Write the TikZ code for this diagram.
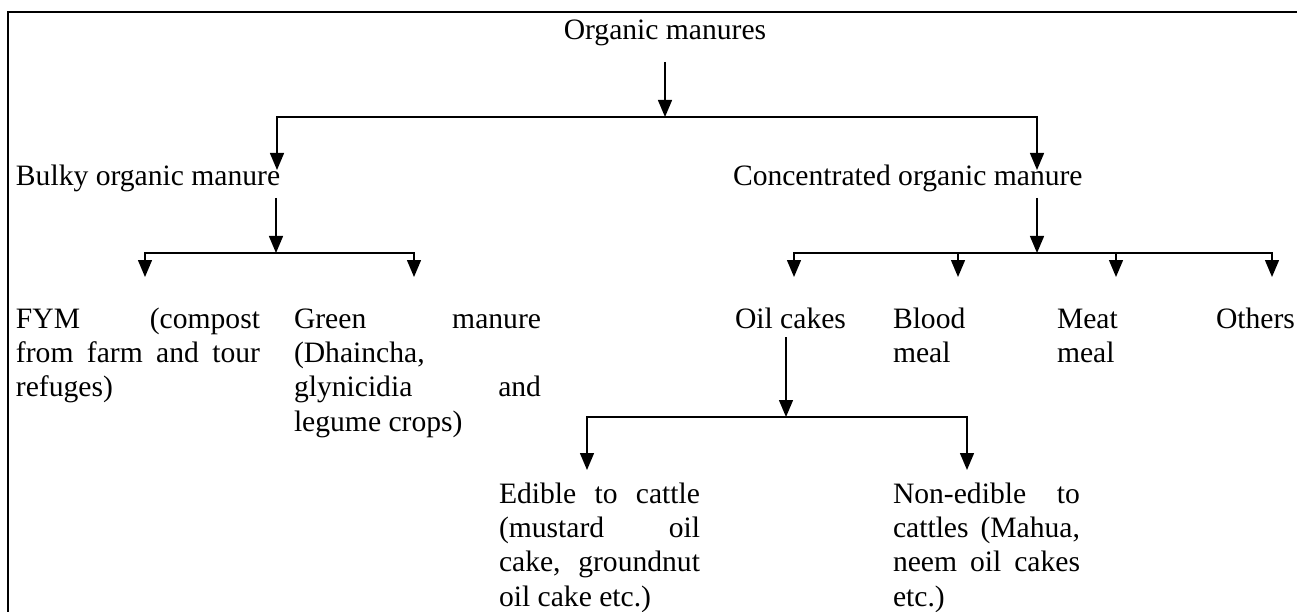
\documentclass[tikz,border=0pt]{standalone}
\usepackage{fontspec}
\setmainfont{Liberation Serif}
\usetikzlibrary{arrows.meta}
\newcommand\jline[2]{\hbox to #1{#2}}
\tikzset{
  txt/.style={anchor=base west, inner sep=0pt, outer sep=0pt, font=\fontsize{29.6}{34.4}\selectfont},
  arr/.style={line width=1.4pt, -{Triangle[length=17pt,width=14pt]}},
  frame/.style={line width=2pt}
}
\begin{document}
\begin{tikzpicture}[x=1pt,y=-1pt]
\useasboundingbox (0,0) rectangle (1297,612);
\draw[frame] (1297,12.5) -- (8,12.5) -- (8,612);

% texts
\node[txt, anchor=base] (organic) at (665,40) {Organic manures};
\node[txt] (bulky) at (16,186) {Bulky organic manure};
\node[txt] (conc) at (733,186) {Concentrated organic manure};
\node[txt] (fym) at (16,328) {\vtop{\jline{244pt}{FYM (compost}\jline{244pt}{from farm and tour}\hbox{refuges)}}};
\node[txt] (green) at (294,328) {\vtop{\jline{247pt}{Green manure}\hbox{(Dhaincha,}\jline{247pt}{glynicidia and}\hbox{legume crops)}}};
\node[txt] (oil) at (735,328) {Oil cakes};
\node[txt] (blood) at (893,328) {\vtop{\hbox{Blood}\hbox{meal}}};
\node[txt] (meat) at (1057,328) {\vtop{\hbox{Meat}\hbox{meal}}};
\node[txt] (others) at (1216,328) {Others};
\node[txt] (edible) at (499,503) {\vtop{\jline{201pt}{Edible to cattle}\jline{201pt}{(mustard oil}\jline{201pt}{cake, groundnut}\hbox{oil cake etc.)}}};
\node[txt] (nonedible) at (893,503) {\vtop{\jline{187pt}{Non-edible to}\jline{187pt}{cattles (Mahua,}\jline{187pt}{neem oil cakes}\hbox{etc.)}}};

% coordinates
\coordinate (o1) at (665,62);
\coordinate (j1) at (665,117);
\coordinate (tb) at (277,170);
\coordinate (tc) at (1037,170);
\coordinate (b1) at (276,198);
\coordinate (j2) at (276,253);
\coordinate (tf) at (145,277);
\coordinate (tg) at (414,277);
\coordinate (c1) at (1037,198);
\coordinate (j3) at (1037,253);
\coordinate (to) at (794,277);
\coordinate (tbl) at (958,277);
\coordinate (tm) at (1116,277);
\coordinate (tot) at (1272,277);
\coordinate (k1) at (786,337);
\coordinate (j4) at (786,417);
\coordinate (te) at (587,470);
\coordinate (tn) at (967,470);

% connectors
\draw[arr] (o1) -- (j1);
\draw[arr] (j1) -| (tb);
\draw[arr] (j1) -| (tc);
\draw[arr] (b1) -- (j2);
\draw[arr] (j2) -| (tf);
\draw[arr] (j2) -| (tg);
\draw[arr] (c1) -- (j3);
\draw[arr] (j3) -| (to);
\draw[arr] (j3) -| (tbl);
\draw[arr] (j3) -| (tm);
\draw[arr] (j3) -| (tot);
\draw[arr] (k1) -- (j4);
\draw[arr] (j4) -| (te);
\draw[arr] (j4) -| (tn);
\end{tikzpicture}
\end{document}
